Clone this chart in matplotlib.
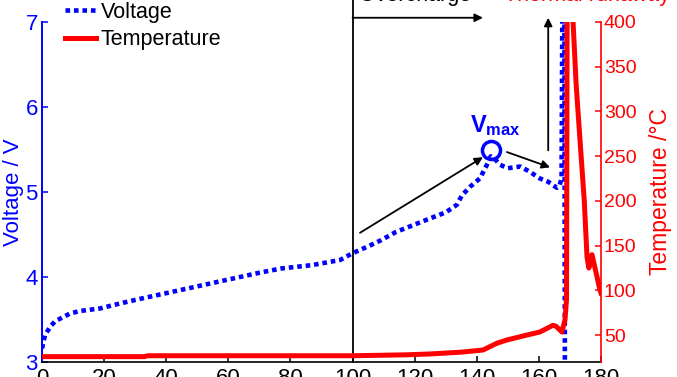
import matplotlib
matplotlib.use('Agg')
import matplotlib.pyplot as plt

plt.rcParams['font.family'] = ['Liberation Sans', 'DejaVu Sans']
plt.rcParams['mathtext.fontset'] = 'custom'
plt.rcParams['mathtext.rm'] = 'Liberation Sans'
plt.rcParams['mathtext.bf'] = 'Liberation Sans:bold'
plt.rcParams['mathtext.it'] = 'Liberation Sans:italic'

# ---------------- data ----------------
time_v = [0, 1, 2.6, 4.2, 6.4, 9, 12.2, 18.7, 23, 30, 40, 50, 60, 70, 77, 87, 96,
          100, 105, 109, 114, 119.5, 125, 130, 133.6, 135.2, 137.8, 141, 143,
          144.5, 146, 147.5, 150, 154, 157, 160.3, 163, 165.8, 166.6, 167.3,
          167.6, 168.2, 168.4]
voltage = [3.16, 3.32, 3.41, 3.48, 3.52, 3.57, 3.60, 3.63, 3.67, 3.73, 3.81, 3.89,
           3.97, 4.05, 4.10, 4.14, 4.20, 4.28, 4.36, 4.43, 4.53, 4.61, 4.69, 4.76,
           4.85, 4.96, 5.06, 5.16, 5.30, 5.42, 5.38, 5.32, 5.28, 5.30, 5.24, 5.16,
           5.12, 5.05, 5.07, 5.16, 7.6, 7.6, 2.0]

time_t = [0, 33, 34, 100, 117, 125, 135, 142, 146.5, 149.7, 156, 160.3, 164.5,
          165.5, 167.4, 168.4, 168.9, 169.1, 170.5, 171.0, 172.0, 173.3, 174.6,
          175.5, 176.1, 177.1, 179.7, 180]
temperature = [26, 26, 27, 27, 28, 29, 31, 33.4, 41, 44.6, 50, 53.5, 61,
               60, 53.5, 67, 90, 430, 430, 400, 330, 265, 201,
               137, 125, 140, 100, 97]

vmax_t = [144.5]
vmax_v = [5.49]

x_ticks = [0, 20, 40, 60, 80, 100, 120, 140, 160, 180]
v_ticks = [3, 4, 5, 6, 7]
t_ticks = [50, 100, 150, 200, 250, 300, 350, 400]

BLUE = '#0000FF'
RED = '#FF0000'

fig = plt.figure(figsize=(6.77, 3.77), dpi=100)
ax = fig.add_axes([42 / 677, 15 / 377, (601 - 42) / 677, (362 - 22) / 377])
ax2 = ax.twinx()

lv, = ax.plot(time_v, voltage, color=BLUE, lw=3.3, ls=(0, (1, 0.85)), label='Voltage')
lt, = ax2.plot(time_t, temperature, color=RED, lw=3.6, label='Temperature')
ax.plot(vmax_t, vmax_v, 'o', mfc='none', mec=BLUE, ms=13, mew=2.5)

ax.set_xlim(0, 180)
ax.set_ylim(3, 7)
ax2.set_ylim(20, 400)
ax.set_xticks(x_ticks)
ax.set_yticks(v_ticks)
ax2.set_yticks(t_ticks)

for s in ['top', 'right']:
    ax.spines[s].set_visible(False)
for s in ['top', 'left', 'bottom']:
    ax2.spines[s].set_visible(False)
ax.spines['left'].set_color(BLUE)
ax.spines['left'].set_linewidth(1.4)
ax.spines['bottom'].set_linewidth(1.2)
ax2.spines['right'].set_color(RED)
ax2.spines['right'].set_linewidth(1.2)

ax.tick_params(axis='x', direction='in', labelsize=16, length=4, width=1.1, pad=4)
ax.tick_params(axis='y', direction='in', colors=BLUE, labelsize=16, length=4,
               width=1.1, pad=3)
ax2.tick_params(axis='y', direction='in', colors=RED, labelsize=14, length=4,
                width=1.1, pad=2)

ax.set_ylabel('Voltage / V', color=BLUE, fontsize=16)
ax.yaxis.set_label_coords(-0.032, 0.5)
ax2.set_ylabel('Temperature /°C', color=RED, fontsize=16.5)
ax2.yaxis.set_label_coords(1.086, 0.5)

# annotations
ax.plot([100, 100], [3, 7.4], color='black', lw=1.3, clip_on=False)
arrow_kw = dict(arrowstyle='-|>', color='black', lw=1.3, mutation_scale=12,
                shrinkA=0, shrinkB=0)
ax.annotate('', xy=(142, 7.05), xytext=(100, 7.05), arrowprops=arrow_kw,
            annotation_clip=False)
ax.annotate('', xy=(163, 7.05), xytext=(163, 5.49), arrowprops=arrow_kw,
            annotation_clip=False)
ax.annotate('', xy=(142, 5.41), xytext=(102.4, 4.52), arrowprops=arrow_kw)
ax.annotate('', xy=(163.6, 5.29), xytext=(149.7, 5.47), arrowprops=arrow_kw)

ax.text(137.8, 5.70, r'$\mathbf{V_{max}}$', color=BLUE, fontsize=17,
        ha='left', va='baseline')

fig.text(415 / 677, 1 - 1 / 377, 'Overcharge', color='black', fontsize=15.5,
         ha='center', va='baseline')
fig.text(587 / 677, 1 - 1 / 377, 'Thermal runaway', color=RED, fontsize=15.5,
         ha='center', va='baseline')

fig.legend([lv, lt], ['Voltage', 'Temperature'], loc='upper left',
           bbox_to_anchor=(65 / 677, 1 - 2 / 377), frameon=False, fontsize=15.5,
           handlelength=1.45, handletextpad=0.2, labelspacing=0.3,
           borderpad=0, borderaxespad=0)

fig.savefig('out.png', dpi=100)
